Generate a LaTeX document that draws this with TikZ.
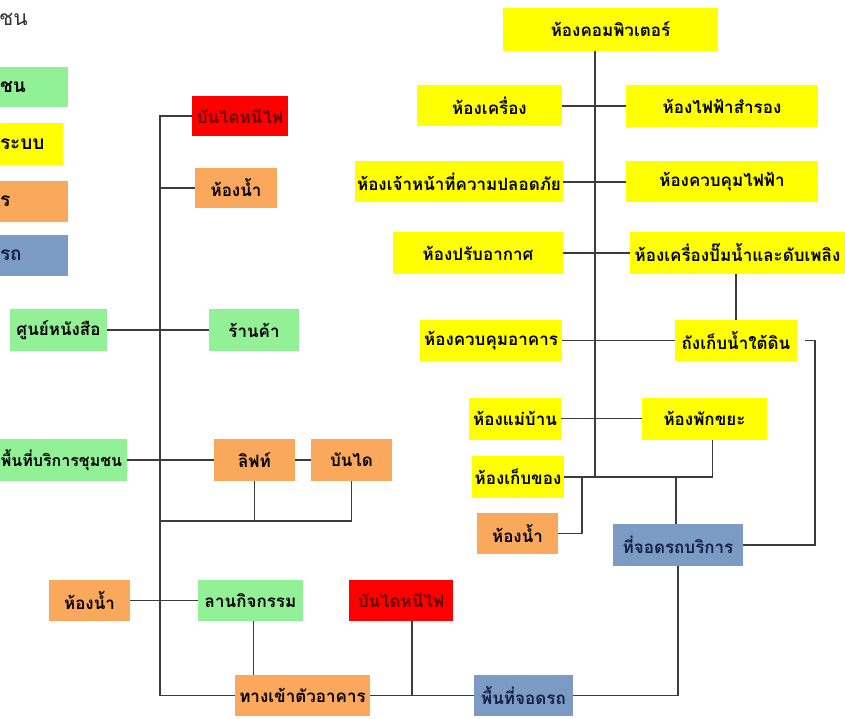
\documentclass[tikz,border=0pt]{standalone}
\usepackage{fontspec}
\setmainfont{Loma}[Script=Thai]
\definecolor{cgreen}{RGB}{146,240,150}
\definecolor{cyellow}{RGB}{255,255,0}
\definecolor{corange}{RGB}{250,168,92}
\definecolor{cred}{RGB}{255,0,0}
\definecolor{cblue}{RGB}{124,155,196}
\definecolor{cline}{RGB}{60,60,60}
\definecolor{credtext}{RGB}{100,0,0}
\definecolor{cbluetext}{RGB}{20,30,70}
\tikzset{
  box/.style={rectangle, inner sep=0pt, draw=none, text=black, font=\bfseries\fontsize{17}{19}\selectfont},
  gbox/.style={box, fill=cgreen},
  ybox/.style={box, fill=cyellow},
  obox/.style={box, fill=corange},
  rbox/.style={box, fill=cred, text=credtext},
  bbox/.style={box, fill=cblue, text=cbluetext},
  conn/.style={draw=cline, line width=1.4pt},
  legbox/.style={align=left, font=\bfseries\fontsize{19}{21}\selectfont}
}
\begin{document}
\begin{tikzpicture}[x=1pt,y=-1pt]
\useasboundingbox[fill=white] (0,0) rectangle (845,719);
\begin{scope}
\clip (0,0) rectangle (845,719);
% legend
\node[box, anchor=west, text=black!80, font=\fontsize{21}{23}\selectfont] (title) at (-1,19) {ชน};
\node[gbox, minimum width=68, minimum height=40, text width=68, legbox] (lg1) at (34,87) {ชน};
\node[ybox, minimum width=63, minimum height=42, text width=63, legbox] (lg2) at (31.5,144) {ระบบ};
\node[obox, minimum width=68, minimum height=41, text width=68, legbox] (lg3) at (34,201.5) {ร};
\node[bbox, minimum width=68, minimum height=41, text width=68, legbox] (lg4) at (34,255.5) {รถ};

% left tree
\node[rbox, minimum width=96, minimum height=40] (fire1) at (240,116) {บันไดหนีไฟ};
\node[obox, minimum width=82, minimum height=40] (wc1) at (236,188) {ห้องน้ำ};
\node[gbox, minimum width=97, minimum height=42] (book) at (58.5,330) {ศูนย์หนังสือ};
\node[gbox, minimum width=90, minimum height=42] (shop) at (254,330) {ร้านค้า};
\node[gbox, minimum width=131, minimum height=42, font=\bfseries\fontsize{16}{18}\selectfont] (comm) at (61.5,460) {พื้นที่บริการชุมชน};
\node[obox, minimum width=81, minimum height=42] (lift) at (254.5,460) {ลิฟท์};
\node[obox, minimum width=81, minimum height=42] (stair) at (351.5,460) {บันได};
\node[obox, minimum width=81, minimum height=41] (wc2) at (89.5,600.5) {ห้องน้ำ};
\node[gbox, minimum width=105, minimum height=41] (plaza) at (250.5,600.5) {ลานกิจกรรม};
\node[rbox, minimum width=104, minimum height=41] (fire2) at (401,600.5) {บันไดหนีไฟ};
\node[obox, minimum width=135, minimum height=41] (entr) at (302.5,695.5) {ทางเข้าตัวอาคาร};
\node[bbox, minimum width=99, minimum height=41] (park1) at (523.5,695.5) {พื้นที่จอดรถ};

% right tree
\node[ybox, minimum width=215, minimum height=43] (comp) at (610.5,29.5) {ห้องคอมพิวเตอร์};
\node[ybox, minimum width=145, minimum height=41] (mach) at (489.5,106) {ห้องเครื่อง};
\node[ybox, minimum width=192, minimum height=42] (backup) at (722,106) {ห้องไฟฟ้าสำรอง};
\node[ybox, minimum width=208, minimum height=41] (sec) at (459,182) {ห้องเจ้าหน้าที่ความปลอดภัย};
\node[ybox, minimum width=192, minimum height=41] (elec) at (722,182) {ห้องควบคุมไฟฟ้า};
\node[ybox, minimum width=170, minimum height=41] (air) at (478,253) {ห้องปรับอากาศ};
\node[ybox, minimum width=215, minimum height=42] (pump) at (737.5,253) {ห้องเครื่องปั๊มน้ำและดับเพลิง};
\node[ybox, minimum width=142, minimum height=41] (ctrl) at (491,340.5) {ห้องควบคุมอาคาร};
\node[ybox, minimum width=122, minimum height=41] (tank) at (736,340.5) {ถังเก็บน้ำใต้ดิน};
\node[ybox, minimum width=92, minimum height=42] (maid) at (515,418.5) {ห้องแม่บ้าน};
\node[ybox, minimum width=125, minimum height=42] (trash) at (704.5,418.5) {ห้องพักขยะ};
\node[ybox, minimum width=92, minimum height=42] (store) at (518,477) {ห้องเก็บของ};
\node[obox, minimum width=81, minimum height=41] (wc3) at (517.5,533.5) {ห้องน้ำ};
\node[bbox, minimum width=130, minimum height=42] (svc) at (678,545) {ที่จอดรถบริการ};

% left connectors
\coordinate (LsBot) at (160,695.5);
\coordinate (Lj) at (160,521);
\draw[conn] (fire1.west) -| (LsBot) -- (entr.west);
\draw[conn] (wc1.west) -- (wc1.west -| LsBot);
\draw[conn] (book.east) -- (shop.west);
\draw[conn] (comm.east) -- (lift.west);
\draw[conn] (lift.east) -- (stair.west);
\draw[conn] (stair.south) |- (Lj);
\draw[conn] (lift.south) -- (lift.south |- Lj);
\draw[conn] (wc2.east) -- (plaza.west);
\draw[conn] ([xshift=3]plaza.south) -- ([xshift=3]plaza.south |- entr.north);
\draw[conn] (entr.east) -- (park1.west);
\draw[conn] ([xshift=11]fire2.south) -- ([xshift=11]fire2.south |- entr.east);
\draw[conn] (park1.east) -| (svc.south);

% right connectors
\coordinate (Rs) at (595,477);
\coordinate (Rw) at (582,477);
\coordinate (Rc) at (815,545);
\draw[conn] (comp.south -| Rs) -- (Rs);
\draw[conn] (mach.east) -- (backup.west);
\draw[conn] (sec.east) -- (elec.west);
\draw[conn] (air.east) -- (pump.west);
\draw[conn] (tank.north |- pump.south) -- (tank.north);
\draw[conn] (ctrl.east) -- (tank.west);
\draw[conn] (maid.east) -- (trash.west);
\draw[conn] (store.east) -| ([xshift=8]trash.south);
\draw[conn] (wc3.east) -| (Rw);
\draw[conn] ([xshift=-2]svc.north) -- ([xshift=-2]svc.north |- store.east);
\draw[conn] ([xshift=8]tank.east) -| (Rc) -- (svc.east);
\end{scope}
\end{tikzpicture}
\end{document}
